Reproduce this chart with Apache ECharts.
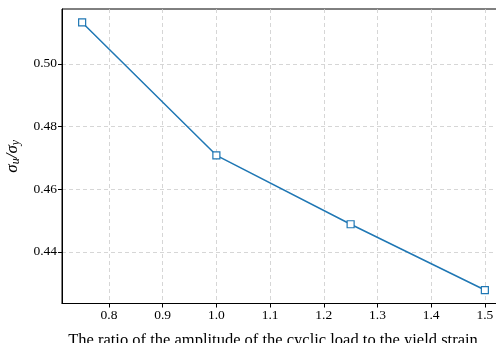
<!DOCTYPE html>
<html>
<head>
<meta charset="utf-8">
<script src="https://cdn.jsdelivr.net/npm/echarts@6/dist/echarts.min.js"></script>
<style>html,body{margin:0;padding:0;background:#fff}#c{width:496px;height:343px}</style>
</head>
<body>
<div id="c"></div>
<script>
var xValues = [0.75, 1.0, 1.25, 1.5];
var yValues = [0.5132, 0.4708, 0.4488, 0.4278];
var xTicks = [0.8, 0.9, 1.0, 1.1, 1.2, 1.3, 1.4, 1.5];
var yTicks = [0.44, 0.46, 0.48, 0.50];
var xLabel = 'The ratio of the amplitude of the cyclic load to the yield strain';

var chart = echarts.init(document.getElementById('c'), null, {renderer: 'canvas'});
var font = 'Liberation Serif';
chart.setOption({
  animation: false,
  grid: {left: 62, right: -9, top: 9, bottom: 39.5, outerBoundsMode: 'none', containLabel: false,
    show: true, borderColor: '#000', borderWidth: 1, backgroundColor: 'transparent'},
  xAxis: {
    type: 'value', min: 0.7125, max: 1.5375,
    name: xLabel, nameLocation: 'middle', nameGap: 29,
    nameTextStyle: {fontFamily: font, fontSize: 16.5, color: '#000', padding: [0, 21, 0, 0]},
    axisLine: {show: true, onZero: false, lineStyle: {color: '#000', width: 1}},
    axisTick: {show: true, length: 4, lineStyle: {color: '#000'}, customValues: xTicks},
    axisLabel: {fontFamily: font, fontSize: 13.5, color: '#000', margin: 5, customValues: xTicks,
      formatter: function (v) { return v.toFixed(1); }},
    splitLine: {show: true, lineStyle: {color: '#cccccc', type: [4, 3], width: 0.8}}
  },
  yAxis: {
    type: 'value', min: 0.4235, max: 0.5175,
    name: '{i|σ}{s|u}{i|/σ}{s|y}', nameLocation: 'middle', nameGap: 40, nameRotate: 90,
    nameTextStyle: {fontFamily: font, fontSize: 16, color: '#000',
      rich: {i: {fontFamily: font, fontSize: 17, fontStyle: 'italic', color: '#000'},
             s: {fontFamily: font, fontSize: 12, fontStyle: 'italic', color: '#000', verticalAlign: 'bottom', padding: [7, 0, 0, 0]}}},
    axisLine: {show: true, onZero: false, lineStyle: {color: '#000', width: 1}},
    axisTick: {show: true, length: 4, lineStyle: {color: '#000'}, customValues: yTicks},
    axisLabel: {fontFamily: font, fontSize: 13.5, color: '#000', margin: 5, customValues: yTicks,
      formatter: function (v) { return v.toFixed(2); }},
    splitLine: {show: true, lineStyle: {color: '#cccccc', type: [4, 3], width: 0.8}}
  },
  series: [{
    type: 'line',
    data: xValues.map(function (x, i) { return [x, yValues[i]]; }),
    lineStyle: {color: '#1f77b4', width: 1.5},
    symbol: 'rect', symbolSize: 7,
    itemStyle: {color: '#ffffff', borderColor: '#1f77b4', borderWidth: 1.2}
  }]
});
</script>
</body>
</html>
